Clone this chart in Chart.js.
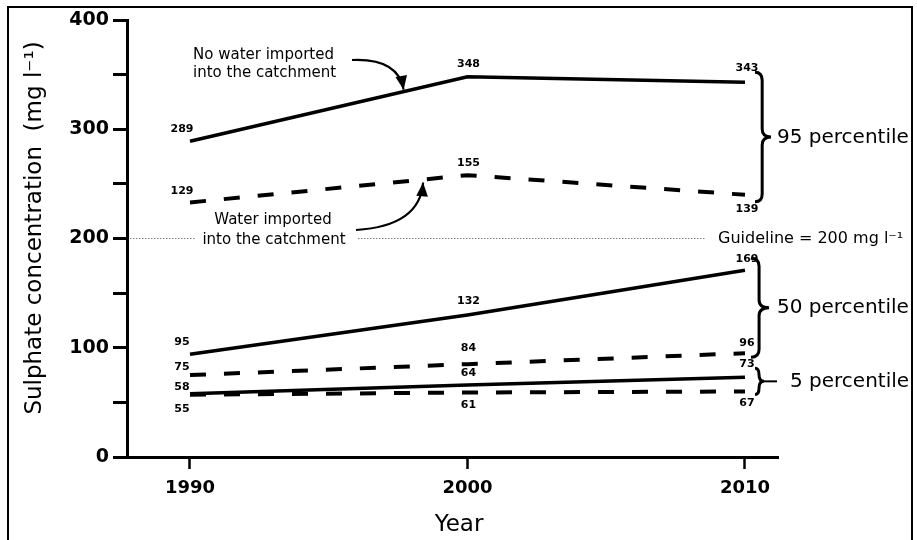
<!DOCTYPE html>
<html lang="en">
<head>
    <meta charset="UTF-8">
    <title>Sulphate concentration</title>
    <style>
        body {
            margin: 0;
            background-color: #fff;
        }
        .chart-box {
            width: 917px;
            height: 540px;
        }
    </style>
    <script src="https://cdn.jsdelivr.net/npm/chart.js"></script>
</head>
<body>

    <div class="chart-box">
        <canvas id="sulphateChart"></canvas>
    </div>

    <script>
        // Datos
        const years = [1990, 2000, 2010];
        const yTicks = [0, 100, 200, 300, 400];

        const p95NoImport = [289, 348, 343];
        const p95Import = [233, 258, 240];
        const p50NoImport = [94, 130, 171];
        const p50Import = [75, 85, 95];
        const p5NoImport = [58, 66, 73];
        const p5Import = [57, 59, 60];
        const guideline = 200;

        // etiquetas impresas junto a cada punto
        const p95NoImportText = ['289', '348', '343'];
        const p95ImportText = ['129', '155', '139'];
        const p50NoImportText = ['95', '132', '169'];
        const p50ImportText = ['75', '84', '96'];
        const p5NoImportText = ['58', '64', '73'];
        const p5ImportText = ['55', '61', '67'];

        const FONT = '"DejaVu Sans", Verdana, sans-serif';

        function toXY(values) {
            return values.map((v, i) => ({ x: years[i], y: v }));
        }

        function lineSet(values, dashed) {
            return {
                data: toXY(values),
                borderColor: '#000',
                borderWidth: dashed ? 4 : 3.5,
                borderDash: dashed ? [16, 18] : [],
                pointRadius: 0,
                tension: 0,
                fill: false
            };
        }

        // llave vertical con la punta a la derecha
        function brace(ctx, x, top, bottom, w) {
            const mid = (top + bottom) / 2;
            const r = Math.min(8, (bottom - top) / 4);
            const xm = x + w * 0.45;
            ctx.beginPath();
            ctx.moveTo(x, top);
            ctx.quadraticCurveTo(xm, top, xm, top + r);
            ctx.lineTo(xm, mid - r);
            ctx.quadraticCurveTo(xm, mid, x + w, mid);
            ctx.quadraticCurveTo(xm, mid, xm, mid + r);
            ctx.lineTo(xm, bottom - r);
            ctx.quadraticCurveTo(xm, bottom, x, bottom);
            ctx.stroke();
        }

        function arrow(ctx, x0, y0, cx, cy, x1, y1) {
            ctx.beginPath();
            ctx.moveTo(x0, y0);
            ctx.quadraticCurveTo(cx, cy, x1, y1);
            ctx.stroke();
            const ang = Math.atan2(y1 - cy, x1 - cx);
            ctx.beginPath();
            ctx.moveTo(x1, y1);
            ctx.lineTo(x1 - 15 * Math.cos(ang - 0.4), y1 - 15 * Math.sin(ang - 0.4));
            ctx.lineTo(x1 - 15 * Math.cos(ang + 0.4), y1 - 15 * Math.sin(ang + 0.4));
            ctx.closePath();
            ctx.fill();
        }

        const decorations = {
            id: 'decorations',
            beforeDraw(chart) {
                const ctx = chart.ctx;
                ctx.save();
                ctx.fillStyle = '#fff';
                ctx.fillRect(0, 0, chart.width, chart.height);
                ctx.restore();
            },
            afterDraw(chart) {
                const ctx = chart.ctx;
                const xs = chart.scales.x;
                const ys = chart.scales.y;
                const X = v => xs.getPixelForValue(v);
                const Y = v => ys.getPixelForValue(v);

                ctx.save();
                ctx.fillStyle = '#000';
                ctx.strokeStyle = '#000';

                // etiquetas de valores
                const groups = [
                    [p95NoImport, p95NoImportText, [-12, -13, -14]],
                    [p95Import, p95ImportText, [-11, -12, 14]],
                    [p50NoImport, p50NoImportText, [-12, -14, -11]],
                    [p50Import, p50ImportText, [-8, -16, -10]],
                    [p5NoImport, p5NoImportText, [-6, -12, -13]],
                    [p5Import, p5ImportText, [14, 13, 12]]
                ];
                const dxs = [-8, 1, 2];
                ctx.font = 'bold 11px ' + FONT;
                ctx.textAlign = 'center';
                ctx.textBaseline = 'middle';
                groups.forEach(g => {
                    g[0].forEach((v, i) => {
                        ctx.fillText(g[1][i], X(years[i]) + dxs[i], Y(v) + g[2][i]);
                    });
                });

                // textos de anotacion
                ctx.font = '15px ' + FONT;
                ctx.textAlign = 'left';
                ctx.fillText('No water imported', 193, 55);
                ctx.fillText('into the catchment', 193, 73);

                ctx.textAlign = 'center';
                ctx.fillStyle = '#fff';
                ctx.fillRect(195, 209, 162, 42);
                ctx.fillStyle = '#000';
                ctx.fillText('Water imported', 273, 220);
                ctx.fillText('into the catchment', 274, 240);

                // flechas
                ctx.lineWidth = 2.2;
                const tip1 = 1997.7;
                const v1 = p95NoImport[0] + (p95NoImport[1] - p95NoImport[0]) * (tip1 - 1990) / 10;
                arrow(ctx, 352, 60, 398, 58, X(tip1), Y(v1) - 2);
                const tip2 = 1998.4;
                const v2 = p95Import[0] + (p95Import[1] - p95Import[0]) * (tip2 - 1990) / 10;
                arrow(ctx, 356, 230, 420, 226, X(tip2), Y(v2) + 3);

                // guia
                ctx.font = '16px ' + FONT;
                ctx.textAlign = 'left';
                ctx.fillText('Guideline = 200 mg l\u207B\u00B9', 718, Y(guideline));

                // llaves
                ctx.lineWidth = 3;
                const bx = X(2010) + 10;
                brace(ctx, bx, Y(p95NoImport[2]) - 10, Y(p95Import[2]) + 7, 16);
                brace(ctx, bx - 4, Y(p50NoImport[2]) - 12, Y(p50Import[2]) + 4, 18);
                brace(ctx, bx, Y(p5NoImport[2]) - 9, Y(p5Import[2]) + 3, 9);
                const m5 = (Y(p5NoImport[2]) - 9 + Y(p5Import[2]) + 3) / 2;
                ctx.lineWidth = 2;
                ctx.beginPath();
                ctx.moveTo(bx + 9, m5);
                ctx.lineTo(bx + 22, m5);
                ctx.stroke();

                ctx.font = '20px ' + FONT;
                ctx.fillText('95 percentile', 777, (Y(p95NoImport[2]) + Y(p95Import[2])) / 2 - 1);
                ctx.fillText('50 percentile', 777, (Y(p50NoImport[2]) + Y(p50Import[2])) / 2 - 4);
                ctx.fillText('5 percentile', 790, m5);

                // titulos de ejes
                ctx.font = '23px ' + FONT;
                ctx.textAlign = 'center';
                ctx.fillText('Year', 459, 525);
                ctx.save();
                ctx.translate(35, 228);
                ctx.rotate(-Math.PI / 2);
                ctx.fillText('Sulphate concentration  (mg l\u207B\u00B9)', 0, 0);
                ctx.restore();

                // marco
                ctx.lineWidth = 2;
                ctx.strokeRect(8, 7, 904, 534);
                ctx.restore();
            }
        };

        const sulphateChart = new Chart(document.getElementById('sulphateChart'), {
            type: 'line',
            data: {
                datasets: [
                    lineSet(p95NoImport, false),
                    lineSet(p95Import, true),
                    lineSet(p50NoImport, false),
                    lineSet(p50Import, true),
                    lineSet(p5NoImport, false),
                    lineSet(p5Import, true),
                    {
                        data: [{ x: 1987.85, y: guideline }, { x: 2008.55, y: guideline }],
                        borderColor: '#444',
                        borderWidth: 1,
                        borderDash: [1, 2],
                        pointRadius: 0
                    }
                ]
            },
            options: {
                responsive: true,
                maintainAspectRatio: false,
                animation: false,
                layout: {
                    padding: { left: 0, top: 20, right: 139, bottom: 0 }
                },
                plugins: {
                    legend: { display: false },
                    tooltip: { enabled: false }
                },
                scales: {
                    x: {
                        type: 'linear',
                        min: 1987.73,
                        max: 2011.19,
                        afterFit: s => { s.height = 83; },
                        afterBuildTicks: s => { s.ticks = years.map(v => ({ value: v })); },
                        grid: {
                            drawOnChartArea: false,
                            drawTicks: true,
                            tickLength: 12,
                            tickWidth: 2.5,
                            tickColor: '#000'
                        },
                        border: { display: true, color: '#000', width: 3 },
                        ticks: {
                            padding: 9,
                            color: '#000',
                            font: { family: FONT, size: 18, weight: 'bold' },
                            callback: v => String(v)
                        }
                    },
                    y: {
                        min: 0,
                        max: 400,
                        afterFit: s => { s.width = 127; },
                        ticks: {
                            stepSize: 50,
                            padding: 4,
                            color: '#000',
                            font: { family: FONT, size: 19, weight: 'bold' },
                            callback: v => (yTicks.includes(v) ? String(v) : '')
                        },
                        grid: {
                            drawOnChartArea: false,
                            drawTicks: true,
                            tickLength: 14,
                            tickWidth: 3,
                            tickColor: '#000'
                        },
                        border: { display: true, color: '#000', width: 3 }
                    }
                }
            },
            plugins: [decorations]
        });
    </script>

</body>
</html>
